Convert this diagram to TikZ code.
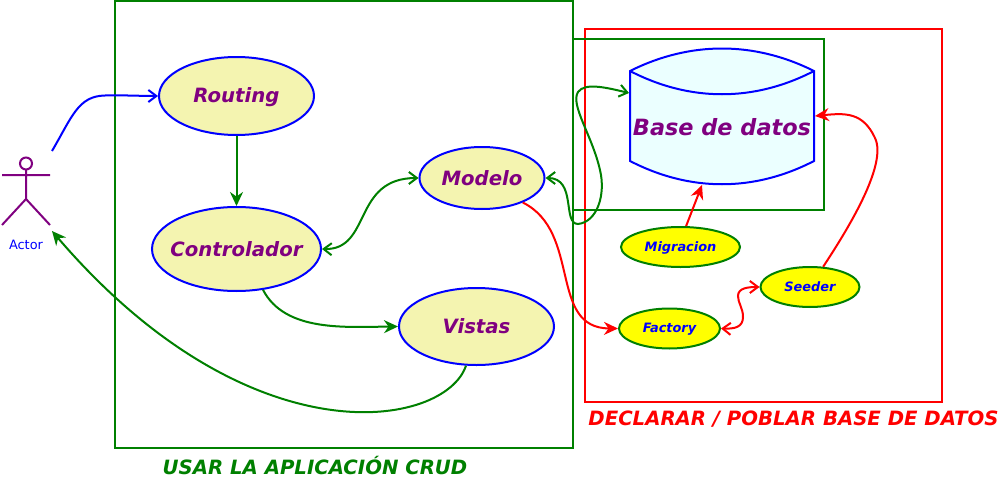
\documentclass[tikz,border=0pt]{standalone}
\usepackage{fontspec}
\setmainfont{DejaVu Sans}
\usetikzlibrary{arrows.meta,shapes.geometric}
\definecolor{usecase}{HTML}{F4F4B0}
\definecolor{dbfill}{HTML}{EBFFFF}
\definecolor{ink}{HTML}{800080}
\definecolor{appgreen}{HTML}{008000}
\definecolor{helperfill}{HTML}{FFFF00}

\begin{document}
\begin{tikzpicture}[
  x=1pt, y=-1pt, line width=2pt,
  area/.style   = {draw=#1, rectangle, anchor=north west, inner sep=0pt},
  usecase/.style = {draw=blue, fill=usecase, ellipse, inner sep=0pt, text=ink,
                  font=\fontsize{19.7}{22}\selectfont\bfseries\itshape},
  helper/.style = {draw=appgreen, fill=helperfill, ellipse, inner sep=0pt, text=blue,
                  font=\fontsize{12.9}{15}\selectfont\bfseries\itshape},
  caption/.style = {font=\fontsize{19.7}{22}\selectfont\bfseries\itshape, inner sep=0pt},
  gflow/.style  = {-{Stealth[length=14pt,width=13pt]}, draw=appgreen},
  gopen/.style  = {{Straight Barb[length=8pt,width=12pt]}-{Straight Barb[length=8pt,width=12pt]}, draw=appgreen},
  rflow/.style  = {-{Stealth[length=14pt,width=13pt]}, draw=red},
]
\useasboundingbox (0,0) rectangle (1002,479);
\fill[white] (0,0) rectangle (1002,479);

% areas
\node[area=appgreen, minimum width=458pt, minimum height=447pt] (crud) at (114,0) {};
\node[area=red, minimum width=357pt, minimum height=373pt] (seed) at (584,28) {};
\node[area=appgreen, minimum width=251pt, minimum height=171pt] (dbarea) at (572,38) {};
\node[caption, text=appgreen] (crudlabel) at (315,465.2) {USAR LA APLICACIÓN CRUD};
\node[caption, text=red] (seedlabel) at (793.5,419.3) {DECLARAR / POBLAR BASE DE DATOS};

% actor
\draw[ink] (26,163.5) circle (6pt);
\draw[ink] (26,170) -- (26,199) (2,175) -- (50,175) (2,225) -- (26,199) -- (50,225);
\node[text=blue, font=\fontsize{12.9}{15}\selectfont, inner sep=0pt] (actor) at (26,245) {Actor};
\coordinate (actorout) at (52,151);
\coordinate (actorin) at (52,231);

% use cases
\node[usecase, text depth=2pt, minimum width=155pt, minimum height=78pt] (routing) at (236.5,96) {Routing};
\node[usecase, minimum width=169pt, minimum height=84pt] (controlador) at (236.5,249) {\makebox[0pt]{Controlador}};
\node[usecase, minimum width=125pt, minimum height=62pt] (modelo) at (482,178) {Modelo};
\node[usecase, text depth=1.5pt, minimum width=155pt, minimum height=77pt] (vistas) at (476.5,326.5) {Vistas};

% data store
\draw[blue, fill=dbfill] (630,71) .. controls (690,41) and (754,41) .. (814,71)
  -- (814,161) .. controls (754,192) and (690,192) .. (630,161) -- cycle;
\draw[blue] (630,71) .. controls (690,102) and (754,102) .. (814,71);
\node[text=ink, font=\fontsize{22.4}{25}\selectfont\bfseries\itshape, inner sep=0pt,
      minimum width=184pt, minimum height=113pt] (db) at (722,127.5) {Base de datos};

% helpers
\node[helper, text depth=1.5pt, minimum width=119pt, minimum height=40pt] (migracion) at (680.5,247) {Migracion};
\node[helper, text depth=1.5pt, minimum width=101pt, minimum height=40pt] (factory) at (669.5,328.5) {Factory};
\node[helper, minimum width=99pt, minimum height=40pt] (seeder) at (810,287) {Seeder};

% connectors
\draw[-{Straight Barb[length=8pt,width=12pt]}, draw=blue] (actorout)
  .. controls (72,117) and (78,96) .. (105,95.5) .. controls (122,95) and (140,96) .. (routing.west);
\draw[gflow] (routing.south) -- (controlador.north);
\draw[gopen] (controlador.east) .. controls (372,250) and (352,178) .. (modelo.west);
\draw[gflow] (controlador.-57) .. controls (285,332) and (345,327) .. (vistas.west);
\draw[gflow] (vistas.-105) .. controls (445,428) and (250,462) .. (actorin);
\draw[gopen] (modelo.east) .. controls (577,178) and (562,224) .. (578,224)
  .. controls (597,222) and (606,195) .. (600,170)
  .. controls (592,135) and (570,105) .. (578,92)
  .. controls (585,82) and (608,88) .. (db.north west |- 0,93);
\draw[rflow] (modelo.-31) .. controls (582,232) and (548,328) .. (factory.west);
\draw[rflow] (migracion.75) -- (db.south -| 702,0);
\draw[rflow] (seeder.57) .. controls (846,232) and (888,165) .. (875,138)
  .. controls (863,112) and (845,113) .. (db.east |- 0,116);
\draw[{Straight Barb[length=8pt,width=12pt]}-{Straight Barb[length=8pt,width=12pt]}, draw=red]
  (factory.east) .. controls (735,329) and (743,327) .. (743,317)
  .. controls (743,308) and (738,303) .. (738,296)
  .. controls (738,288) and (748,287) .. (seeder.west);

\end{tikzpicture}
\end{document}
